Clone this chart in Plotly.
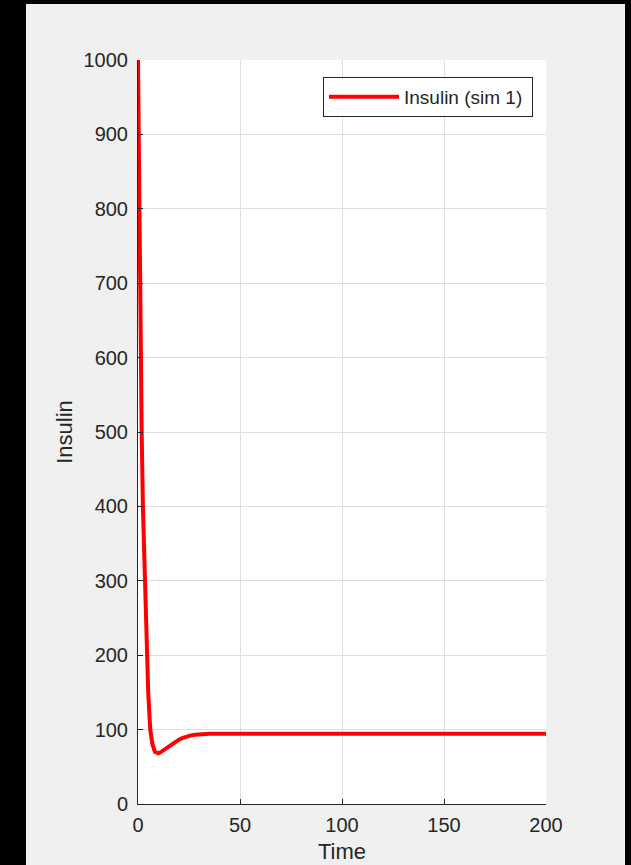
import plotly.graph_objects as go

# Simulated insulin response (sim 1)
time = [0, 0.5, 1.0, 1.8, 2.4, 3.4, 4.4, 5.0, 6.0, 7.1, 8.3, 9.8, 11.0, 12.5,
        14.0, 16.0, 18.0, 20.0, 22.0, 24.0, 26.0, 28.0, 31, 35, 40, 60, 80, 100, 130, 160, 200]
insulin = [1000, 830, 700, 500, 400, 300, 200, 150, 100, 80, 70, 68, 69.5, 72.5,
           75.8, 79.8, 83.3, 86.3, 88.8, 90.8, 92.2, 93.2, 94.0, 94.4, 94.5, 94.5, 94.5, 94.5,
           94.5, 94.5, 94.5]

series_name = "Insulin (sim 1)"
x_title = "Time"
y_title = "Insulin"
x_ticks = [0, 50, 100, 150, 200]
y_ticks = [0, 100, 200, 300, 400, 500, 600, 700, 800, 900, 1000]

W, H = 631, 865
ML, MR, MT, MB = 138, 85, 60, 61
PW, PH = W - ML - MR, H - MT - MB

TEXT = "#262626"
GRID = "#dfdfdf"
FIG_BG = "#f0f0f0"
FONT = "Liberation Sans, Arial, Helvetica, sans-serif"


def px_x(p):
    return (p - ML) / PW


def px_y(p):
    return (H - MB - p) / PH


fig = go.Figure()
fig.add_trace(go.Scatter(
    x=time, y=insulin, mode="lines", name=series_name,
    line=dict(color="#ff0000", width=4),
))

# dark frame around the gray figure window
frame = [(0, 0, 26, H), (0, 0, W, 4), (625, 0, W, H)]
for x0, y0, x1, y1 in frame:
    fig.add_shape(type="rect", xref="paper", yref="paper",
                  x0=px_x(x0), x1=px_x(x1), y0=px_y(y1), y1=px_y(y0),
                  fillcolor="black", line_width=0, layer="above")

axis_common = dict(
    showline=True, linecolor=TEXT, linewidth=1,
    ticks="inside", ticklen=5, tickcolor=TEXT, tickwidth=1,
    showgrid=True, gridcolor=GRID, gridwidth=1,
    zeroline=False, mirror=False, automargin=False,
    tickfont=dict(size=20, color=TEXT, family=FONT),
)

fig.update_xaxes(range=[0, 200], tickvals=x_ticks, ticklabelstandoff=3, **axis_common,
                 title=dict(text=x_title, font=dict(size=22, color=TEXT, family=FONT), standoff=8))
fig.update_yaxes(range=[0, 1000], tickvals=y_ticks, ticklabelstandoff=5, **axis_common,
                 title=dict(text=y_title, font=dict(size=22, color=TEXT, family=FONT), standoff=4))

fig.update_layout(
    width=W, height=H,
    margin=dict(l=ML, r=MR, t=MT, b=MB),
    paper_bgcolor=FIG_BG, plot_bgcolor="white",
    font=dict(family=FONT, color=TEXT),
    showlegend=True,
    legend=dict(
        orientation="h",
        x=px_x(323), xanchor="left", y=px_y(77), yanchor="top",
        bgcolor="white", bordercolor=TEXT, borderwidth=1,
        font=dict(size=19, color=TEXT, family=FONT),
        itemwidth=70, entrywidth=123, entrywidthmode="pixels",
    ),
)

fig.write_html("out.html")
